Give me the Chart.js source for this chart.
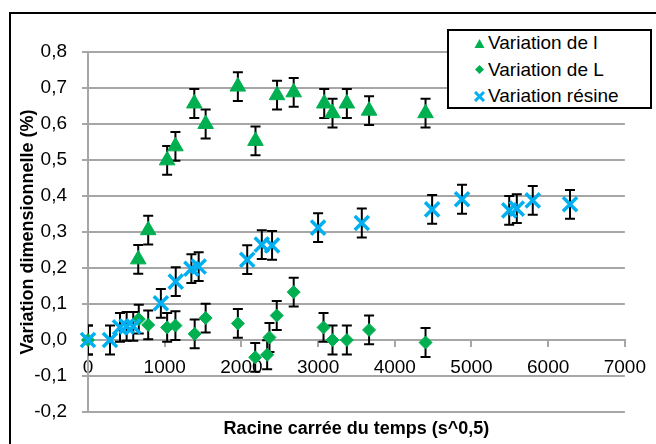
<!DOCTYPE html>
<html>
<head>
<meta charset="utf-8">
<script src="https://cdn.jsdelivr.net/npm/chart.js@4.4.1/dist/chart.umd.min.js"></script>
<style>
  body { margin: 0; background: #fff; }
  #wrap { position: relative; width: 656px; height: 444px; overflow: hidden; background: #fff; }
  #cadre { position: absolute; left: 9px; top: 12px; width: 700px; height: 500px;
           border-left: 2px solid #000; border-top: 2px solid #000; pointer-events: none; }
  #legende { position: absolute; left: 447px; top: 29px; width: 201px; height: 76px;
             border: 2px solid #000; background: #fff;
             font: 19px "Liberation Sans", Arial, sans-serif; color: #000; }
  #legende .ligne { height: 26.5px; display: flex; align-items: center; white-space: nowrap; }
  #legende .ligne:first-child { margin-top: -1px; }
  #legende svg { margin-left: 25px; margin-right: 3px; flex: none; }
</style>
</head>
<body>
<div id="wrap">
  <canvas id="graphique" width="656" height="444"></canvas>
  <div id="cadre"></div>
  <div id="legende"></div>
</div>
<script>
// Données
const noms = ['Variation de l', 'Variation de L', 'Variation résine'];

const tempsl = [655, 785, 1032, 1140, 1386, 1534, 1954, 2184, 2465, 2682, 3080, 3188, 3375, 3665, 4401];
const variationl = [0.224, 0.305, 0.499, 0.538, 0.657, 0.600, 0.704, 0.553, 0.680, 0.688, 0.657, 0.630, 0.657, 0.637, 0.630];

const tempsL = [0, 662, 785, 1032, 1140, 1391, 1534, 1954, 2180, 2336, 2366, 2461, 2682, 3071, 3188, 3375, 3665, 4401];
const variationL = [0.0, 0.058, 0.042, 0.035, 0.040, 0.017, 0.061, 0.046, -0.048, -0.041, 0.007, 0.068, 0.133, 0.035, 0.0, 0.0, 0.028, -0.007];

const tempsResine = [0, 287, 417, 504, 590, 950, 1144, 1348, 1443, 2076, 2266, 2400, 3000, 3570, 4487, 4877, 5492, 5591, 5799, 6285];
const variationResine = [0.0, 0.0, 0.035, 0.038, 0.038, 0.102, 0.162, 0.198, 0.204, 0.223, 0.265, 0.263, 0.312, 0.325, 0.363, 0.391, 0.360, 0.365, 0.388, 0.377];

const erreurl = 0.04;
const erreurL = 0.04;
const erreurResine = 0.04;

const vert = '#00B050';
const bleu = '#00B0F0';
const gris = '#A6A6A6';

Chart.defaults.font.family = '"Liberation Sans", Arial, sans-serif';
Chart.defaults.color = '#000';

const points = (xs, ys) => xs.map((x, i) => ({ x: x, y: ys[i] }));

// barres d'erreur dessinées sous les marqueurs, coupées à la zone du graphe
const barresErreur = {
  id: 'barresErreur',
  beforeDatasetsDraw(chart) {
    const { ctx, chartArea, scales } = chart;
    ctx.save();
    ctx.beginPath();
    ctx.rect(chartArea.left, chartArea.top, chartArea.right - chartArea.left, chartArea.bottom - chartArea.top);
    ctx.clip();
    ctx.strokeStyle = '#000';
    ctx.lineWidth = 2;
    chart.data.datasets.forEach(ds => {
      ds.data.forEach(p => {
        const px = scales.x.getPixelForValue(p.x);
        const haut = scales.y.getPixelForValue(p.y + ds.erreur);
        const bas = scales.y.getPixelForValue(p.y - ds.erreur);
        ctx.beginPath();
        ctx.moveTo(px, haut); ctx.lineTo(px, bas);
        ctx.moveTo(px - 5, haut); ctx.lineTo(px + 5, haut);
        ctx.moveTo(px - 5, bas); ctx.lineTo(px + 5, bas);
        ctx.stroke();
      });
    });
    ctx.restore();
  }
};

const chart = new Chart(document.getElementById('graphique'), {
  type: 'scatter',
  data: {
    datasets: [
      {
        label: noms[0],
        data: points(tempsl, variationl),
        erreur: erreurl,
        pointStyle: 'triangle',
        pointRadius: 9,
        backgroundColor: vert,
        borderColor: vert,
        borderWidth: 1,
        clip: false,
        order: 3
      },
      {
        label: noms[1],
        data: points(tempsL, variationL),
        erreur: erreurL,
        pointStyle: 'rectRot',
        pointRadius: 6.5,
        backgroundColor: vert,
        borderColor: vert,
        borderWidth: 1,
        clip: false,
        order: 2
      },
      {
        label: noms[2],
        data: points(tempsResine, variationResine),
        erreur: erreurResine,
        pointStyle: 'crossRot',
        pointRadius: 10,
        backgroundColor: bleu,
        borderColor: bleu,
        borderWidth: 3.5,
        clip: false,
        order: 1
      }
    ]
  },
  options: {
    responsive: false,
    animation: false,
    layout: { padding: { top: 52, right: 29, left: 13, bottom: 0 } },
    plugins: {
      legend: { display: false },
      tooltip: { enabled: false }
    },
    scales: {
      x: {
        type: 'linear',
        position: { y: 0 },
        min: 0,
        max: 7000,
        ticks: {
          stepSize: 1000,
          padding: 10,
          font: { size: 19 },
          callback: v => String(v)
        },
        grid: { drawOnChartArea: false, drawTicks: true, tickLength: 6, color: gris, lineWidth: 2 },
        border: { color: gris, width: 2 }
      },
      x2: {
        type: 'linear',
        position: 'bottom',
        ticks: { display: false },
        grid: { display: false, drawTicks: false },
        border: { display: false },
        title: {
          display: true,
          text: 'Racine carrée du temps (s^0,5)',
          font: { size: 18, weight: 'bold' }
        },
        afterFit(s) { s.height = 32; }
      },
      y: {
        min: -0.2,
        max: 0.8,
        ticks: {
          stepSize: 0.1,
          padding: 15,
          font: { size: 19 },
          callback: v => (Math.round(v * 10) / 10).toFixed(1).replace('.', ',')
        },
        grid: { color: gris, lineWidth: 2, tickLength: 6 },
        border: { color: gris, width: 2 },
        title: {
          display: true,
          text: 'Variation dimensionnelle (%)',
          font: { size: 18, weight: 'bold' }
        },
        afterFit(s) { s.width = 75; }
      }
    }
  },
  plugins: [barresErreur]
});

// Légende en HTML avec cadre, comme sur l'original
const icones = {
  triangle: '<svg width="11" height="11"><polygon points="5.5,1 10.5,10 0.5,10" fill="' + vert + '"/></svg>',
  rectRot: '<svg width="11" height="11"><polygon points="5.5,1 10,5.5 5.5,10 1,5.5" fill="' + vert + '"/></svg>',
  crossRot: '<svg width="11" height="11"><path d="M1,1 L10,10 M10,1 L1,10" stroke="' + bleu + '" stroke-width="3"/></svg>'
};
const legende = document.getElementById('legende');
chart.data.datasets.forEach(ds => {
  const ligne = document.createElement('div');
  ligne.className = 'ligne';
  ligne.innerHTML = icones[ds.pointStyle] + '<span>' + ds.label + '</span>';
  legende.appendChild(ligne);
});
</script>
</body>
</html>
